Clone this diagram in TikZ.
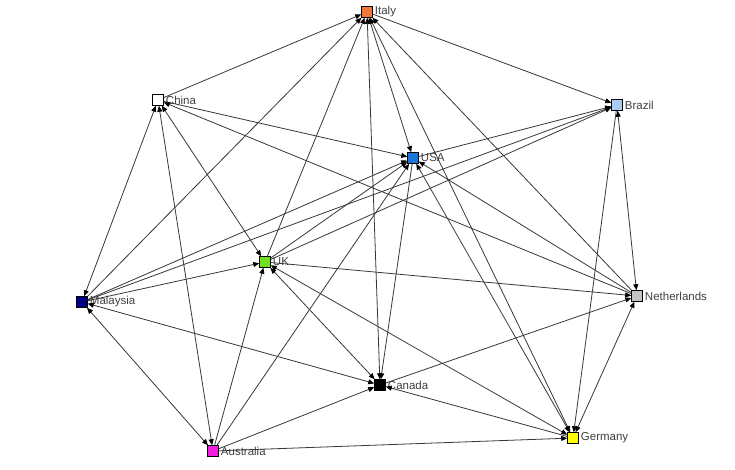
\documentclass[tikz,border=0pt]{standalone}
\usepackage{fontspec}
\setmainfont{Liberation Sans}
\usetikzlibrary{arrows.meta}
\begin{document}
\begin{tikzpicture}[x=1pt,y=-1pt,
  >={Triangle[length=6pt,width=5pt,color=black]},
  actor/.style={draw=black, line width=0.6pt, rectangle, minimum size=11.5pt, inner sep=0pt, outer sep=0pt},
  lbl/.style={font=\fontsize{11.5}{13}\selectfont, text=black!75, inner sep=0pt, anchor=west, xshift=2pt},
  tie/.style={draw=black!78, line width=0.8pt, ->},
  mutual/.style={draw=black!78, line width=0.8pt, <->}]
\fill[white] (0,0) rectangle (735,470);
\useasboundingbox (0,0) rectangle (735,470);
% actors
\node[actor, fill={rgb,255:red,240;green,120;blue,60}] (italy) at (367,12) {};
\node[actor, fill=white] (china) at (158,100) {};
\node[actor, fill={rgb,255:red,170;green,204;blue,245}] (brazil) at (617,105) {};
\node[actor, fill={rgb,255:red,25;green,120;blue,215}] (usa) at (413,158) {};
\node[actor, fill={rgb,255:red,110;green,225;blue,30}] (uk) at (265,262) {};
\node[actor, fill={rgb,255:red,0;green,0;blue,130}] (malaysia) at (82,302) {};
\node[actor, fill={rgb,255:red,195;green,195;blue,195}] (neth) at (637,296) {};
\node[actor, fill=black] (canada) at (380,385) {};
\node[actor, fill={rgb,255:red,240;green,30;blue,220}] (austr) at (213,451) {};
\node[actor, fill={rgb,255:red,255;green,255;blue,0}] (germany) at (573,438) {};
% labels
\node[lbl] (italyL) at (italy.east) {Italy};
\node[lbl] (chinaL) at (china.east) {China};
\node[lbl] (brazilL) at (brazil.east) {Brazil};
\node[lbl] (usaL) at (usa.east) {USA};
\node[lbl] (ukL) at (uk.east) {UK};
\node[lbl] (malaysiaL) at (malaysia.east) {Malaysia};
\node[lbl] (nethL) at (neth.east) {Netherlands};
\node[lbl] (canadaL) at (canada.east) {Canada};
\node[lbl] (austrL) at (austr.east) {Australia};
\node[lbl] (germanyL) at (germany.east) {Germany};
% ties
\draw[tie] (china) -- (italy);
\draw[tie] (malaysia) -- (italy);
\draw[tie] (uk) -- (italy);
\draw[mutual] (italy) -- (usa);
\draw[mutual] (italy) -- (canada);
\draw[tie] (neth) -- (italy);
\draw[tie] (italy) -- (brazil);
\draw[mutual] (germany) -- (italy);
\draw[tie] (china) -- (usa);
\draw[tie] (neth) -- (china);
\draw[mutual] (china) -- (uk);
\draw[mutual] (china) -- (austr);
\draw[mutual] (malaysia) -- (china);
\draw[tie] (uk) -- (brazil);
\draw[tie] (malaysia) -- (brazil);
\draw[tie] (usa) -- (brazil);
\draw[mutual] (brazil) -- (neth);
\draw[tie] (brazil) -- (germany);
\draw[tie] (austr) -- (usa);
\draw[tie] (malaysia) -- (usa);
\draw[tie] (uk) -- (usa);
\draw[tie] (usa) -- (canada);
\draw[mutual] (usa) -- (germany);
\draw[tie] (neth) -- (usa);
\draw[tie] (malaysia) -- (uk);
\draw[tie] (austr) -- (uk);
\draw[mutual] (canada) -- (uk);
\draw[mutual] (germany) -- (uk);
\draw[tie] (uk) -- (neth);
\draw[mutual] (malaysia) -- (canada);
\draw[mutual] (malaysia) -- (austr);
\draw[tie] (austr) -- (canada);
\draw[tie] (canada) -- (neth);
\draw[tie] (germany) -- (canada);
\draw[tie] (austr) -- (germany);
\draw[mutual] (neth) -- (germany);
\end{tikzpicture}
\end{document}
